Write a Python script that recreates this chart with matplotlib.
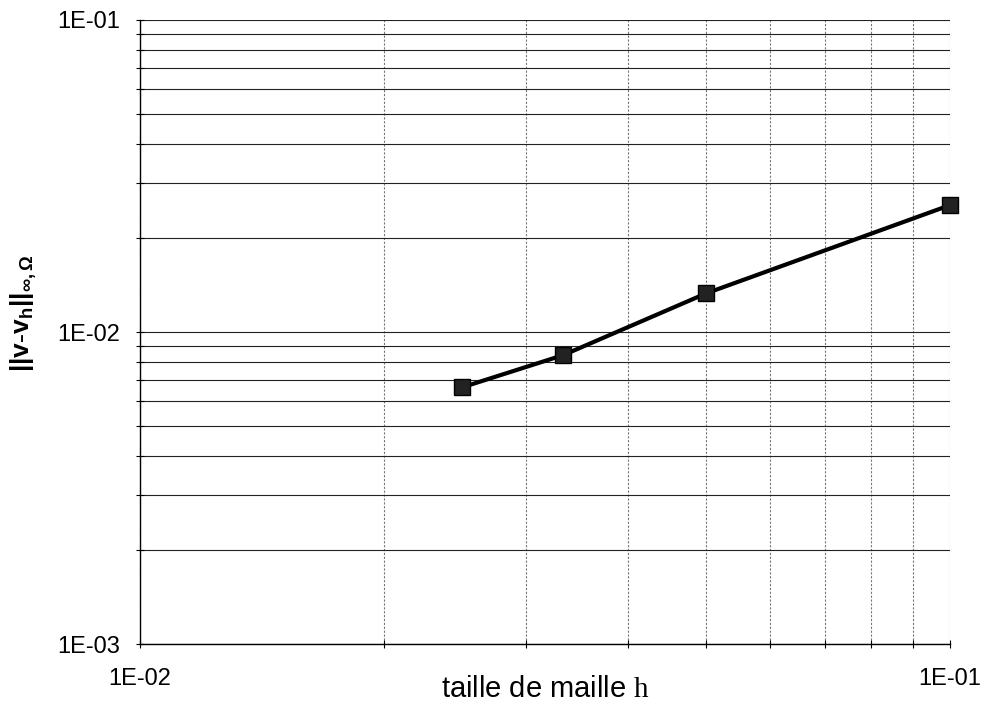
import matplotlib
matplotlib.use("Agg")
import math
import matplotlib.pyplot as plt
from matplotlib.ticker import LogLocator, FuncFormatter, NullFormatter

plt.rcParams['font.family'] = ['Liberation Sans', 'DejaVu Sans']
plt.rcParams['mathtext.fontset'] = 'custom'
plt.rcParams['mathtext.rm'] = 'Liberation Serif'
plt.rcParams['mathtext.bf'] = 'Liberation Sans:bold'
plt.rcParams['mathtext.it'] = 'Liberation Sans:italic'

# data
h_values = [0.025, 0.0333, 0.05, 0.1]
err_values = [0.00665, 0.00843, 0.0133, 0.0255]
x_limits = (1e-2, 1e-1)
y_limits = (1e-3, 1e-1)

fig = plt.figure(figsize=(9.83, 7.04), dpi=100)
ax = fig.add_axes([0.1424, 0.0852, 0.9664 - 0.1424, 0.9716 - 0.0852])

ax.set_xscale('log')
ax.set_yscale('log')
ax.set_xlim(*x_limits)
ax.set_ylim(*y_limits)

ax.plot(h_values, err_values, color='black', linewidth=3,
        marker='s', markersize=11, markerfacecolor='#222222',
        markeredgecolor='black', zorder=5, clip_on=False)

def fmt(v, pos):
    e = int(round(math.log10(v)))
    return "1E+%02d" % e if e >= 0 else "1E-%02d" % (-e)

ax.xaxis.set_major_locator(LogLocator(base=10, numticks=10))
ax.yaxis.set_major_locator(LogLocator(base=10, numticks=10))
ax.xaxis.set_minor_locator(LogLocator(base=10, subs=range(2, 10), numticks=20))
ax.yaxis.set_minor_locator(LogLocator(base=10, subs=range(2, 10), numticks=20))
ax.xaxis.set_major_formatter(FuncFormatter(fmt))
ax.yaxis.set_major_formatter(FuncFormatter(fmt))
ax.xaxis.set_minor_formatter(NullFormatter())
ax.yaxis.set_minor_formatter(NullFormatter())

# grids: horizontal solid, vertical dotted grey
ax.yaxis.grid(True, which='both', color='#222222', linewidth=0.8, linestyle='-')
ax.xaxis.grid(True, which='both', color='#777777', linewidth=0.8, linestyle=(0, (2, 1.5)))
ax.set_axisbelow(True)

for s in ['top', 'right']:
    ax.spines[s].set_visible(False)
for s in ['left', 'bottom']:
    ax.spines[s].set_linewidth(1.0)
    ax.spines[s].set_color('black')

ax.tick_params(which='both', direction='inout', length=6, width=0.8, colors='black',
               labelsize=17)
ax.tick_params(axis='x', which='major', pad=14)
ax.tick_params(axis='y', which='major', pad=11)

ax.set_xlabel('taille de maille $\\mathrm{h}$', fontsize=21)
ax.xaxis.set_label_coords(0.5, -0.05)
ax.set_ylabel('$\\mathbf{||v\\text{-}v_h||_{\\infty,\\Omega}}$', fontsize=19)
ax.yaxis.set_label_coords(-0.125, 0.53)

fig.savefig('out.png', dpi=100)
